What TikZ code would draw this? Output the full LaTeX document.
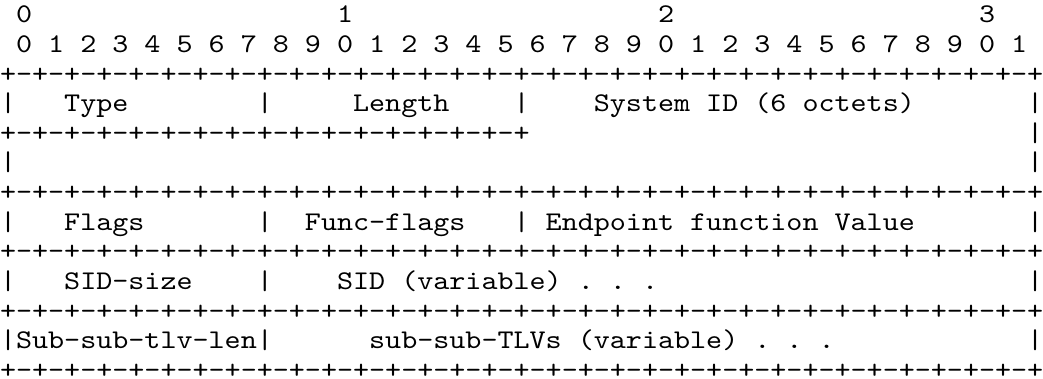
\documentclass[tikz,border=0pt]{standalone}
\usepackage{fontspec}
\newfontfamily\lmmonofam[FakeStretch=1.1323]{lmmono10-regular.otf}
\newcommand\ascfont{\lmmonofam\fontsize{27}{29.6}\selectfont\frenchspacing}
\tikzset{
  asc/.style={inner sep=0pt, outer sep=0pt, anchor=base west, font=\ascfont, text=black},
  ascflat/.style={asc, text depth=0pt},
}
\newcommand\fullborder{+-+-+-+-+-+-+-+-+-+-+-+-+-+-+-+-+-+-+-+-+-+-+-+-+-+-+-+-+-+-+-+-+}
\newcommand\halfborder{+-+-+-+-+-+-+-+-+-+-+-+-+-+-+-+-+}
\begin{document}
\begin{tikzpicture}[x=16.05pt, y=-29.6pt]
\useasboundingbox[fill=white] (0pt,-6.6pt) rectangle (1043pt,-385.6pt);
% row 1: decade numbers
\node[asc] (t0) at (1,1) {0};
\node[asc] (t1) at (21,1) {1};
\node[asc] (t2) at (41,1) {2};
\node[asc] (t3) at (61,1) {3};
% row 2: bit numbers
\foreach \k in {0,...,31} {
  \pgfmathtruncatemacro\dg{mod(\k,10)}
  \node[asc] (b\k) at ({2*\k+1},2) {\dg};
}
% row 3
\node[asc] (r3) at (0,3) {\fullborder};
% row 4
\node[asc] (r4a) at (0,4) {|};
\node[asc] (type) at (4,4) {Type};
\node[asc] (r4b) at (16,4) {|};
\node[asc] (length) at (22,4) {Length};
\node[asc] (r4c) at (32,4) {|};
\node[asc] (sysid) at (37,4) {System ID (6 octets)};
\node[asc] (r4d) at (64,4) {|};
% row 5
\node[asc] (r5) at (0,5) {\halfborder};
\node[asc] (r5d) at (64,5) {|};
% row 6
\node[asc] (r6a) at (0,6) {|};
\node[asc] (r6d) at (64,6) {|};
% row 7
\node[asc] (r7) at (0,7) {\fullborder};
% row 8
\node[asc] (r8a) at (0,8) {|};
\node[asc] (flags) at (4,8) {Flags};
\node[asc] (r8b) at (16,8) {|};
\node[asc] (fflags) at (19,8) {Func-flags};
\node[asc] (r8c) at (32,8) {|};
\node[asc] (epf) at (34,8) {Endpoint function Value};
\node[asc] (r8d) at (64,8) {|};
% row 9
\node[asc] (r9) at (0,9) {\fullborder};
% row 10
\node[asc] (r10a) at (0,10) {|};
\node[asc] (sidsize) at (4,10) {SID-size};
\node[asc] (r10b) at (16,10) {|};
\node[asc] (sid) at (21,10) {SID (variable) . . .};
\node[asc] (r10d) at (64,10) {|};
% row 11
\node[asc] (r11) at (0,11) {\fullborder};
% row 12
\node[asc] (r12a) at (0,12) {|};
\node[asc] (sstlen) at (1,12) {Sub-sub-tlv-len};
\node[asc] (r12b) at (16,12) {|};
\node[asc] (sstlvs) at (23,12) {sub-sub-TLVs (variable) . . .};
\node[asc] (r12d) at (64,12) {|};
% row 13
\node[ascflat] (r13) at (0,13) {\fullborder};
\end{tikzpicture}
\end{document}
